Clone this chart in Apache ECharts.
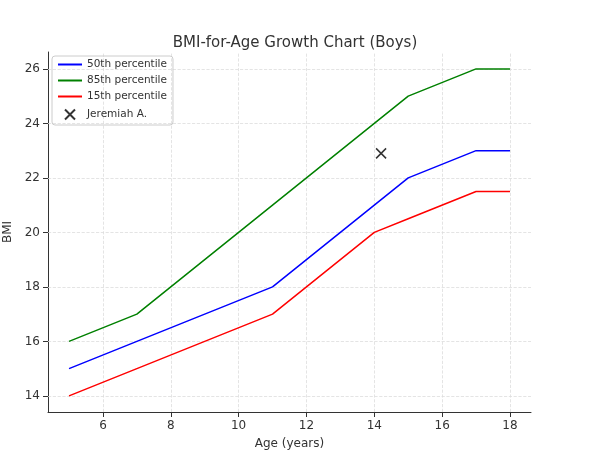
<!DOCTYPE html>
<html>
<head>
<meta charset="utf-8">
<script src="https://cdn.jsdelivr.net/npm/echarts@6/dist/echarts.min.js"></script>
<style>html,body{margin:0;padding:0;background:#fff}#main{width:590px;height:467px}</style>
</head>
<body>
<div id="main"></div>
<script>
var ages = [5, 7, 11, 14, 15, 17, 18];
var p50 = [15, 16, 18, 21, 22, 23, 23];
var p85 = [16, 17, 21, 24, 25, 26, 26];
var p15 = [14, 15, 17, 20, 20.5, 21.5, 21.5];
var patient = [[14.2, 22.9]];
var xTicks = [6, 8, 10, 12, 14, 16, 18];
var yTicks = [14, 16, 18, 20, 22, 24, 26];

function pairs(v) {
    var out = [];
    for (var i = 0; i < ages.length; i++) out.push([ages[i], v[i]]);
    return out;
}
var cross = 'path://M0,0L10,10M10,0L0,10';
var lineIcon = 'path://M0,4L24,4L24,6L0,6Z';
var font = 'DejaVu Sans';

var myChart = echarts.init(document.getElementById('main'));
var option = {
    animation: false,
    textStyle: {fontFamily: font},
    title: {text: 'BMI-for-Age Growth Chart (Boys)', left: 290, top: 31, textAlign: 'center',
        textStyle: {fontSize: 15, fontWeight: 'normal', color: '#333', fontFamily: font}},
    grid: {left: 48, right: 59, top: 52, bottom: 55, containLabel: false, outerBoundsMode: 'none'},
    legend: {
        left: 52, top: 56, orient: 'vertical', itemGap: 5, itemWidth: 24, itemHeight: 10,
        borderColor: '#ccc', borderWidth: 1, borderRadius: 3, padding: [3, 6],
        textStyle: {fontSize: 10.5, color: '#333', fontFamily: font},
        data: [
            {name: '50th percentile', icon: lineIcon, itemStyle: {color: 'blue'}},
            {name: '85th percentile', icon: lineIcon, itemStyle: {color: 'green'}},
            {name: '15th percentile', icon: lineIcon, itemStyle: {color: 'red'}},
            {name: 'Jeremiah A.', icon: cross}
        ]
    },
    xAxis: {
        type: 'value', min: 4.38, max: 18.62,
        name: 'Age (years)', nameLocation: 'middle', nameGap: 26,
        nameTextStyle: {fontSize: 12, color: '#333'},
        axisLine: {lineStyle: {color: '#333'}},
        axisTick: {customValues: xTicks, lineStyle: {color: '#333'}},
        axisLabel: {customValues: xTicks, color: '#333', fontSize: 12},
        splitLine: {show: false}
    },
    yAxis: {
        type: 'value', min: 13.41, max: 26.62,
        name: 'BMI', nameLocation: 'middle', nameGap: 32,
        nameTextStyle: {fontSize: 12, color: '#333'},
        axisLine: {show: true, lineStyle: {color: '#333'}},
        axisTick: {show: true, customValues: yTicks, lineStyle: {color: '#333'}},
        axisLabel: {customValues: yTicks, color: '#333', fontSize: 12},
        splitLine: {show: false}
    },
    series: [
        {name: 'grid', type: 'line', data: [], z: 1, silent: true,
            markLine: {silent: true, symbol: 'none', label: {show: false}, z: 1,
                lineStyle: {color: '#ddd', type: 'dashed', width: 0.8},
                data: xTicks.map(function (t) { return {xAxis: t}; }).concat(yTicks.map(function (t) { return {yAxis: t}; }))}},
        {name: '50th percentile', type: 'line', z: 3, data: pairs(p50), symbol: 'none', lineStyle: {color: 'blue', width: 1.5}, itemStyle: {color: 'blue'}},
        {name: '85th percentile', type: 'line', z: 3, data: pairs(p85), symbol: 'none', lineStyle: {color: 'green', width: 1.5}, itemStyle: {color: 'green'}},
        {name: '15th percentile', type: 'line', z: 3, data: pairs(p15), symbol: 'none', lineStyle: {color: 'red', width: 1.5}, itemStyle: {color: 'red'}},
        {name: 'Jeremiah A.', type: 'scatter', z: 4, data: patient, symbol: cross, symbolSize: 10,
            itemStyle: {color: 'none', borderColor: '#000', borderWidth: 1.5}}
    ]
};
myChart.setOption(option);
</script>
</body>
</html>
